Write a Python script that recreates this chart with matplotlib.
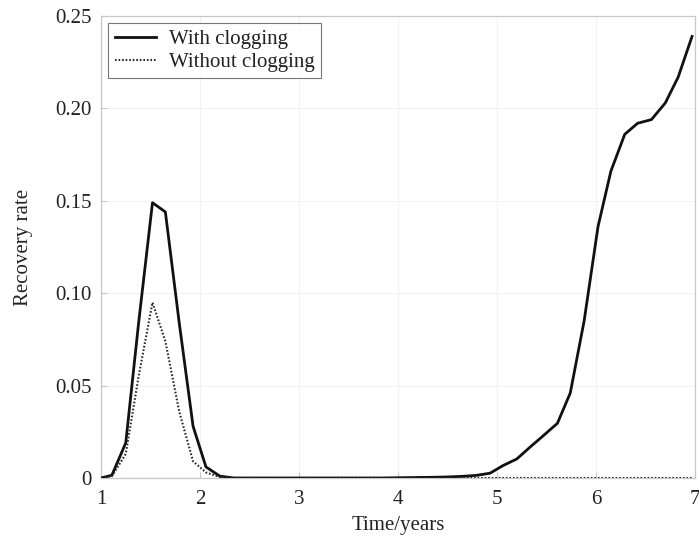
import matplotlib
matplotlib.use("Agg")
import matplotlib.pyplot as plt
from matplotlib.ticker import FixedLocator, FixedFormatter

plt.rcParams['font.family'] = ['Liberation Serif', 'DejaVu Serif']

time_years = [1.00, 1.11, 1.25, 1.38, 1.52, 1.65, 1.79, 1.93, 2.06, 2.20,
              2.34, 2.47, 2.61, 2.75, 2.88, 3.02, 3.15, 3.29, 3.43, 3.56,
              3.70, 3.84, 3.97, 4.11, 4.24, 4.38, 4.52, 4.65, 4.79, 4.93,
              5.06, 5.20, 5.34, 5.47, 5.61, 5.74, 5.88, 6.02, 6.15, 6.29,
              6.42, 6.56, 6.70, 6.83, 6.97]

with_clogging = [0.0, 0.0015, 0.019, 0.084, 0.149, 0.144, 0.084, 0.028, 0.006, 0.001,
                 0.0, 0.0, 0.0, 0.0, 0.0, 0.0, 0.0, 0.0, 0.0, 0.0,
                 0.0, 0.0, 0.0001, 0.0002, 0.0003, 0.0004, 0.0006, 0.0009, 0.0014, 0.0026,
                 0.0067, 0.0103, 0.017, 0.023, 0.0296, 0.046, 0.085, 0.136, 0.166, 0.186,
                 0.192, 0.194, 0.203, 0.217, 0.239]

without_clogging = [0.0, 0.001, 0.013, 0.055, 0.095, 0.074, 0.036, 0.009, 0.003, 0.0005,
                    0.0, 0.0, 0.0, 0.0, 0.0, 0.0, 0.0, 0.0, 0.0, 0.0,
                    0.0, 0.0, 0.0, 0.0, 0.0, 0.0, 0.0, 0.0, 0.0, 0.0,
                    0.0, 0.0, 0.0, 0.0, 0.0, 0.0, 0.0, 0.0, 0.0, 0.0,
                    0.0, 0.0, 0.0, 0.0, 0.0]

x_ticks = [1, 2, 3, 4, 5, 6, 7]
y_ticks = [0, 0.05, 0.10, 0.15, 0.20, 0.25]
y_tick_labels = ["0", "0.05", "0.10", "0.15", "0.20", "0.25"]

fig = plt.figure(figsize=(6.99, 5.37), dpi=100)
ax = fig.add_axes([0.1445, 0.1099, 0.8498, 0.8601])

ax.plot(time_years, with_clogging, color='#111111', lw=2.0, ls='-',
        label='With clogging', zorder=3)
ax.plot(time_years, without_clogging, color='#2a2a2a', lw=1.5, ls=(0, (0.8, 0.9)),
        label='Without clogging', zorder=3)

ax.set_xlim(1, 7)
ax.set_ylim(0, 0.25)
ax.xaxis.set_major_locator(FixedLocator(x_ticks))
ax.yaxis.set_major_locator(FixedLocator(y_ticks))
ax.yaxis.set_major_formatter(FixedFormatter(y_tick_labels))

ax.grid(True, color='#f2f2f2', lw=0.8)
ax.set_axisbelow(True)
for s in ax.spines.values():
    s.set_color('#c8c8c8')
    s.set_linewidth(0.9)
ax.tick_params(direction='in', length=4, color='#c8c8c8', labelsize=15,
               labelcolor='#222222')
ax.tick_params(axis='x', pad=9)
ax.tick_params(axis='y', pad=7)

ax.set_xlabel('Time/years', fontsize=15, color='#222222', labelpad=5)
ax.set_ylabel('Recovery rate', fontsize=15, color='#222222', labelpad=16)

leg = ax.legend(loc='upper left', fontsize=15, frameon=True, fancybox=False,
                borderaxespad=0.35, handlelength=2.0, borderpad=0.3,
                labelspacing=0.15, handletextpad=0.6)
leg.get_frame().set_edgecolor('#555555')
leg.get_frame().set_linewidth(0.8)
for t in leg.get_texts():
    t.set_color('#222222')

fig.savefig('out.png', dpi=100)
